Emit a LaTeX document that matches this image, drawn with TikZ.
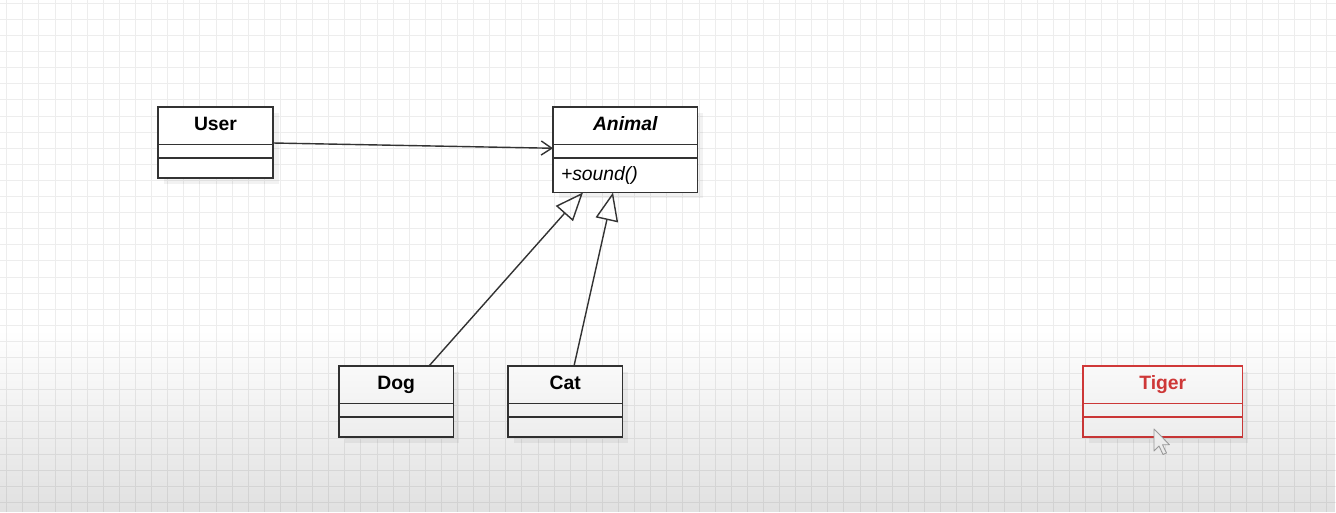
\documentclass[tikz,border=0pt]{standalone}
\usepackage{fontspec}
\setmainfont{Liberation Sans}
\usetikzlibrary{arrows.meta,calc,positioning,backgrounds,fadings}
\definecolor{umlline}{HTML}{333333}
\definecolor{tigerred}{HTML}{D63A3A}
\definecolor{gridgray}{HTML}{EDEDED}
\tikzfading[name=fadebottom, top color=transparent!100, bottom color=transparent!88]

\tikzset{
  cls/.style={draw=umlline, line width=0.8pt, inner sep=0pt, outer sep=0pt, font=\fontsize{11}{13}\selectfont},
  clsname/.style={cls, minimum height=0.75cm, text height=0.75em, text depth=0.22em, font=\bfseries\fontsize{11}{13}\selectfont},
  clsattr/.style={cls, minimum height=0.27cm},
  clsops/.style={cls, minimum height=0.4cm},
  newcls/.style={draw=tigerred, text=tigerred},
  assoc/.style={draw=umlline, line width=0.8pt, -{Straight Barb[length=6pt,width=8pt]}},
  inherit/.style={draw=umlline, line width=0.8pt, -{Triangle[open,length=16pt,width=13pt]}},
}

\begin{document}
\begin{tikzpicture}[x=0.02cm,y=-0.02cm]
  \useasboundingbox (0,0) rectangle (1336,512);
  % User
  \node[clsname, minimum width=2.3cm, anchor=north west] (user) at (158,107) {User};
  \node[clsattr, minimum width=2.3cm, below=0pt of user] (user-attr) {};
  \node[clsops, minimum width=2.3cm, below=0pt of user-attr] (user-ops) {};
  % Animal (abstract)
  \node[clsname, minimum width=2.89cm, anchor=north west, font=\bfseries\itshape\fontsize{11}{13}\selectfont] (animal) at (553,107) {Animal};
  \node[clsattr, minimum width=2.89cm, below=0pt of animal] (animal-attr) {};
  \node[clsops, minimum height=0.69cm, text width=2.57cm, inner xsep=0.16cm, align=left, font=\itshape\fontsize{11}{13}\selectfont, below=0pt of animal-attr] (animal-ops) {+sound()};
  % Dog, Cat
  \node[clsname, minimum width=2.29cm, anchor=north west] (dog) at (339,366) {Dog};
  \node[clsattr, minimum width=2.29cm, below=0pt of dog] (dog-attr) {};
  \node[clsops, minimum width=2.29cm, below=0pt of dog-attr] (dog-ops) {};
  \node[clsname, minimum width=2.29cm, anchor=north west] (cat) at (508,366) {Cat};
  \node[clsattr, minimum width=2.29cm, below=0pt of cat] (cat-attr) {};
  \node[clsops, minimum width=2.29cm, below=0pt of cat-attr] (cat-ops) {};
  % Tiger (new)
  \node[clsname, newcls, minimum width=3.19cm, anchor=north west] (tiger) at (1083,366) {Tiger};
  \node[clsattr, newcls, minimum width=3.19cm, below=0pt of tiger] (tiger-attr) {};
  \node[clsops, newcls, minimum width=3.19cm, below=0pt of tiger-attr] (tiger-ops) {};

  \draw[assoc] ($(user.south east)+(0,-1.5)$) -- ($(animal-attr.west)+(0,-3)$);
  \draw[inherit] ($(dog.north west)+(90,0)$) -- ($(animal-ops.south west)+(30,0)$);
  \draw[inherit] ($(cat.north west)+(66,0)$) -- ($(animal-ops.south west)+(60,0)$);

  \begin{scope}[on background layer]
    \fill[white] (0,0) rectangle (1336,512);
    \foreach \gx in {6.7,22.8,...,1336} \draw[gridgray, line width=0.5pt] (\gx,0) -- (\gx,512);
    \foreach \gy in {3.3,19.4,...,512} \draw[gridgray, line width=0.5pt] (0,\gy) -- (1336,\gy);
    \foreach \n in {user,animal,dog,cat,tiger} {
      \fill[black, opacity=0.05] ($(\n.north west)+(6,6)$) rectangle ($(\n-ops.south east)+(6,6)$);
      \fill[white] (\n.north west) rectangle (\n-ops.south east);
    }
  \end{scope}

  % mouse pointer
  \filldraw[fill=white, draw=gray!70, line width=0.5pt, line join=round] (1154,429) -- ++(0,22) -- ++(5,-5) -- ++(4,8.5) -- ++(3.5,-1.6) -- ++(-4,-8.2) -- ++(7,0) -- cycle;

  \fill[black, path fading=fadebottom] (0,330) rectangle (1336,512);
\end{tikzpicture}
\end{document}
